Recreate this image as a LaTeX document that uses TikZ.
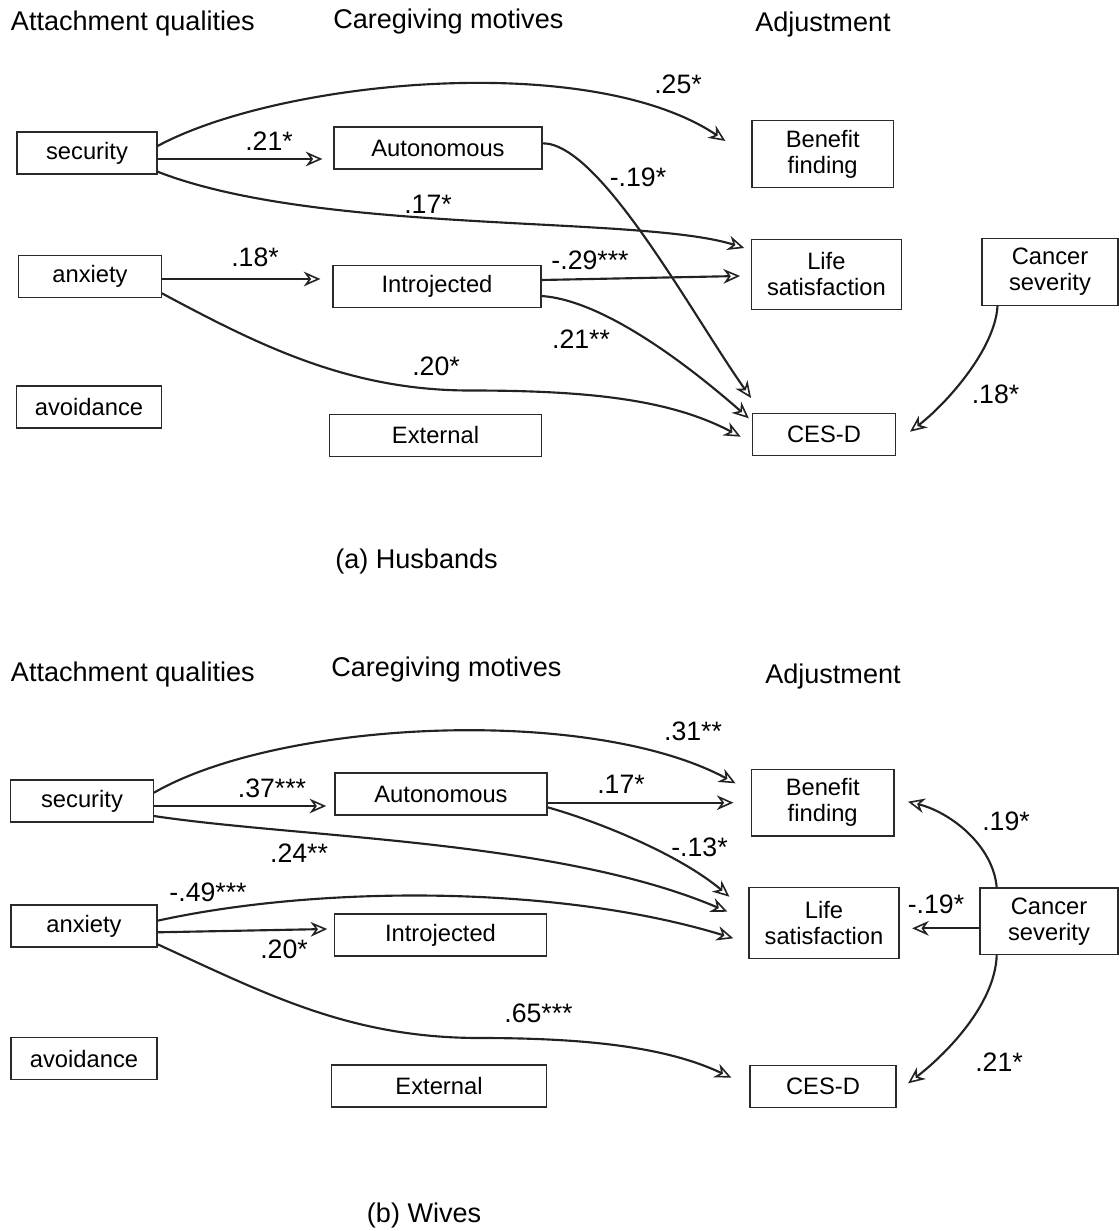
\documentclass[tikz,border=0pt]{standalone}
\usepackage{fontspec}
\setmainfont{Liberation Sans}
\usetikzlibrary{arrows.meta,positioning,calc}

\definecolor{linegray}{HTML}{222222}
\definecolor{boxgray}{HTML}{2a2a2a}
\newcommand{\boxfont}{\fontsize{17.8pt}{19.5pt}\selectfont}
\newcommand{\lblfont}{\fontsize{20pt}{22pt}\selectfont}
\newcommand{\headfont}{\fontsize{20.3pt}{22pt}\selectfont}

\begin{document}
\begin{tikzpicture}[
    x=0.75pt, y=-0.75pt,
    box/.style={rectangle, draw=boxgray, line width=0.9pt, minimum height=31.5pt, inner sep=2pt, align=center, font=\boxfont},
    tallbox/.style={box, minimum height=50pt},
    lbl/.style={font=\lblfont, inner sep=0pt},
    head/.style={font=\headfont, anchor=base west, inner sep=0pt},
    arrow/.style={-{Stealth[open, length=12.5pt, width=11pt, inset=4pt, line width=1.2pt]}, line width=1.6pt, draw=linegray}
]
\useasboundingbox (0,0) rectangle (1119,1231);

% (a) Husbands
\node[head] (attA) at (10.7,31) {Attachment qualities};
\node[head] (motA) at (333,29) {Caregiving motives};
\node[head] (adjA) at (755,31.7) {Adjustment};

\node[box, minimum width=105pt] (secA) at (87,153) {security};
\node[box, minimum width=107pt] (anxA) at (90,276.5) {anxiety};
\node[box, minimum width=109pt] (avoA) at (89,407) {avoidance};
\node[box, minimum width=156pt] (autA) at (438,148) {Autonomous};
\node[box, minimum width=156pt] (intA) at (437,286.5) {Introjected};
\node[box, minimum width=159pt] (extA) at (435.5,435.5) {External};
\node[tallbox, minimum width=106pt] (benA) at (822.7,154) {Benefit\\finding};
\node[tallbox, minimum width=112.5pt, minimum height=52.5pt] (lifA) at (826.4,274.3) {Life\\satisfaction};
\node[tallbox, minimum width=102pt] (canA) at (1050,272) {Cancer\\severity};
\node[box, minimum width=107pt] (cesA) at (824,434.7) {CES-D};

\draw[arrow] ($(secA.east)+(0,-7)$) .. controls (280,80) and (590,50) .. ($(benA.west)+(-26,-13)$);
\draw[arrow] ($(secA.east)+(0,6)$) -- ($(autA.west)+(-11,11)$);
\draw[arrow] ($(secA.east)+(0,18.7)$) .. controls (320,235) and (640,215) .. ($(lifA.west)+(-6.5,-26.3)$);
\draw[arrow] ($(autA.east)+(0,-4.7)$) .. controls (600,143) and (691,313) .. ($(cesA.west)+(-1,-36.7)$);
\draw[arrow] ($(anxA.east)+(0,2.5)$) -- ($(intA.west)+(-12,-7.5)$);
\draw[arrow] ($(anxA.east)+(0,16.8)$) .. controls (260.7,346.3) and (350,390.5) .. (470,390.5)
    .. controls (590,390.5) and (670.8,399.7) .. ($(cesA.west)+(-11.4,2)$);
\draw[arrow] ($(intA.east)+(0,-6.5)$) -- ($(lifA.west)+(-10.7,1.7)$);
\draw[arrow] ($(intA.east)+(0,9.5)$) .. controls (600,300) and (680,358) .. ($(cesA.west)+(-3.2,-16.4)$);
\draw[arrow] ($(canA.south)+(-52.5,0)$) .. controls (995,350) and (945,405) .. ($(cesA.east)+(14.1,-3)$);

\node[lbl] (lA25) at (678,84) {.25*};
\node[lbl] (lA21) at (269,141) {.21*};
\node[lbl] (lA17) at (428,204) {.17*};
\node[lbl] (lA19) at (638,177) {-.19*};
\node[lbl] (lA18) at (255,257) {.18*};
\node[lbl] (lA20) at (436,366) {.20*};
\node[lbl] (lA29) at (590,260) {-.29***};
\node[lbl] (lA21b) at (581,339) {.21**};
\node[lbl] (lA18b) at (995.5,394) {.18*};

\node[head] (capA) at (335,568.3) {(a) Husbands};

% (b) Wives
\node[head] (attB) at (10.7,681.7) {Attachment qualities};
\node[head] (motB) at (331,676.7) {Caregiving motives};
\node[head] (adjB) at (765,683.3) {Adjustment};

\node[box, minimum width=107pt] (secB) at (82,801) {security};
\node[box, minimum width=109.5pt] (anxB) at (84,926) {anxiety};
\node[box, minimum width=109.5pt] (avoB) at (84,1058.7) {avoidance};
\node[box, minimum width=159pt] (autB) at (441,794) {Autonomous};
\node[box, minimum width=159pt] (intB) at (440.5,935) {Introjected};
\node[box, minimum width=161pt] (extB) at (439,1086) {External};
\node[tallbox, minimum width=107pt] (benB) at (822.7,802.7) {Benefit\\finding};
\node[tallbox, minimum width=112.5pt, minimum height=53pt] (lifB) at (824,922.8) {Life\\satisfaction};
\node[tallbox, minimum width=103.5pt] (canB) at (1049,921.3) {Cancer\\severity};
\node[box, minimum width=109.5pt] (cesB) at (823,1086.3) {CES-D};

\draw[arrow] ($(secB.east)+(0,-8.3)$) .. controls (280,720) and (590,705) .. ($(benB.west)+(-15.2,-19.4)$);
\draw[arrow] ($(secB.east)+(0,5)$) -- ($(autB.west)+(-8.2,12)$);
\draw[arrow] ($(secB.east)+(0,15)$) .. controls (300,838) and (560,840) .. ($(lifB.west)+(-21,-11.1)$);
\draw[arrow] ($(anxB.east)+(0,-5.3)$) .. controls (320,885) and (560,885) .. ($(lifB.west)+(-15.1,15.5)$);
\draw[arrow] ($(anxB.east)+(0,6.3)$) -- ($(intB.west)+(-6.6,-6)$);
\draw[arrow] ($(anxB.east)+(0,18.3)$) .. controls (267,994.3) and (350,1038) .. (480,1038)
    .. controls (600,1038) and (672,1049.7) .. ($(cesB.west)+(-18,-8.6)$);
\draw[arrow] ($(autB.east)+(0,8.7)$) -- ($(benB.west)+(-17.3,0)$);
\draw[arrow] ($(autB.east)+(0,13.3)$) .. controls (600,822) and (680,855) .. ($(lifB.west)+(-19,-26.1)$);
\draw[arrow] ($(canB.north)+(-52.3,0)$) .. controls (993,845) and (950,812) .. ($(benB.east)+(13.4,-1)$);
\draw[arrow] ($(canB.west)+(0,7)$) -- ($(lifB.east)+(12.5,5.5)$);
\draw[arrow] ($(canB.south)+(-52.3,0)$) .. controls (995,1005) and (945,1055) .. ($(cesB.east)+(11.5,-3)$);

\node[lbl] (lB31) at (693,731) {.31**};
\node[lbl] (lB37) at (272,788) {.37***};
\node[lbl] (lB24) at (299,853) {.24**};
\node[lbl] (lB49) at (208,892) {-.49***};
\node[lbl] (lB20) at (284,949) {.20*};
\node[lbl] (lB65) at (538.5,1013) {.65***};
\node[lbl] (lB17) at (621,784) {.17*};
\node[lbl] (lB13) at (699.5,847.5) {-.13*};
\node[lbl] (lB19) at (1006,821) {.19*};
\node[lbl] (lB19b) at (936,904) {-.19*};
\node[lbl] (lB21) at (999,1062.5) {.21*};

\node[head] (capB) at (366.7,1222.7) {(b) Wives};

\end{tikzpicture}
\end{document}
